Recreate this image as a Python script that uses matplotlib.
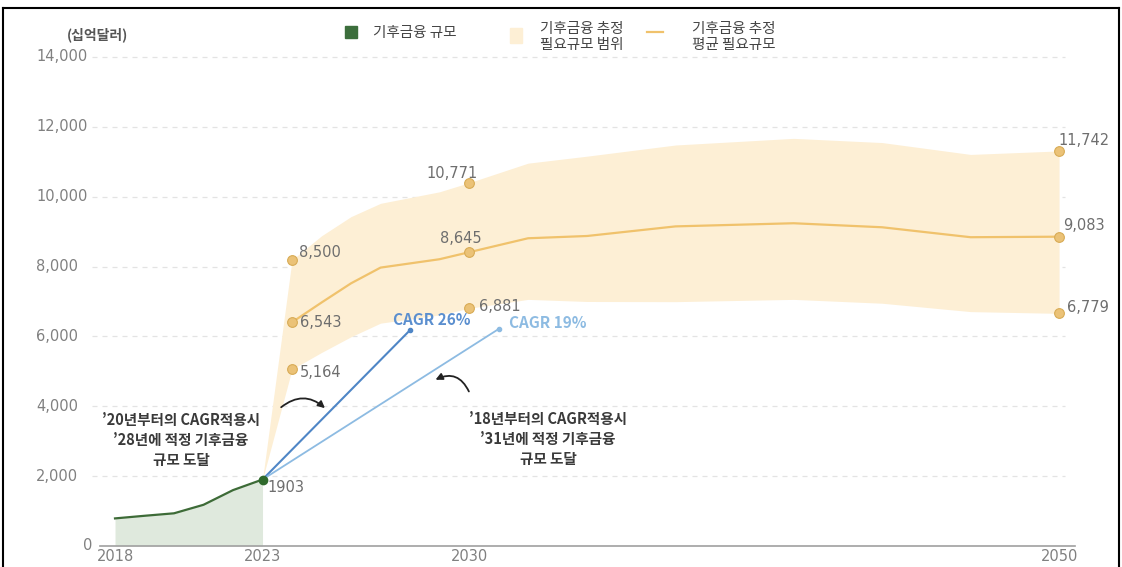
import numpy as np
import matplotlib
matplotlib.use("Agg")
from matplotlib import pyplot as plt
from matplotlib.patches import Rectangle, FancyArrowPatch
from matplotlib.lines import Line2D
from matplotlib.transforms import blended_transform_factory

plt.rcParams['font.family'] = ['Noto Sans CJK KR', 'DejaVu Sans']
NUM_FONT = ['DejaVu Sans']

# actual climate finance size (billion USD)
actual_years = [2018, 2019, 2020, 2021, 2022, 2023]
actual_values = [790, 865, 936, 1180, 1600, 1903]

# estimated required range and mean
proj_years = [2023, 2024, 2025, 2026, 2027, 2029, 2030, 2032, 2034, 2037, 2041, 2044, 2047, 2050]
proj_upper = [1903, 8190, 8880, 9430, 9810, 10140, 10400, 10960, 11160, 11480, 11670, 11550, 11210, 11310]
proj_lower = [1903, 5060, 5540, 5990, 6380, 6615, 6805, 7060, 7000, 6995, 7060, 6950, 6710, 6660]
proj_mean = [np.nan, 6405, 6970, 7520, 7970, 8210, 8410, 8810, 8875, 9150, 9240, 9125, 8840, 8855]

# labelled points
label_years = [2024, 2030, 2050]
upper_labels = ['8,500', '10,771', '11,742']
mean_labels = ['6,543', '8,645', '9,083']
lower_labels = ['5,164', '6,881', '6,779']

# CAGR extrapolation lines
cagr26_years = [2023, 2028]
cagr26_values = [1903, 6180]
cagr19_years = [2023, 2031]
cagr19_values = [1903, 6210]

y_ticks = [0, 2000, 4000, 6000, 8000, 10000, 12000, 14000]
x_ticks = [2018, 2023, 2030, 2050]

W, H = 1122, 567
fig = plt.figure(figsize=(W / 100, H / 100), dpi=100)
ax = fig.add_axes([92 / W, (H - 546) / H, 983 / W, 506 / H])
ax.set_xlim(2017.22, 2050.54)
ax.set_ylim(0, 14486)
for s in ax.spines.values():
    s.set_visible(False)

def fx(x):
    return x / W

def fy(y):
    return 1 - y / H

# grid
for v in y_ticks[1:]:
    ax.axhline(v, xmin=0, xmax=0.99, color='#e3e3e3', lw=0.9, ls=(0, (4, 4)), zorder=0)
ax.axhline(0, xmin=8 / 983, xmax=1, color='#a0a0a0', lw=1.2, zorder=5, clip_on=False)

# y labels
tr = blended_transform_factory(fig.transFigure, ax.transData)
for v in y_ticks:
    if v == 0:
        ax.text(fx(92), v, '0', transform=tr, ha='right', va='center', fontsize=10.5,
                color='#808080', family=NUM_FONT)
    else:
        ax.text(fx(36), v, f'{v:,}', transform=tr, ha='left', va='center', fontsize=10.5,
                color='#808080', family=NUM_FONT)

ax.set_yticks([])
ax.set_xticks(x_ticks)
ax.set_xticklabels([str(x) for x in x_ticks], fontsize=10.5, color='#808080', family=NUM_FONT)
ax.tick_params(axis='x', length=0, pad=2)

# band + mean line
ax.fill_between(proj_years, proj_lower, proj_upper, color='#fdefd5', lw=0, zorder=1)
ax.plot(proj_years, proj_mean, color='#f0c26c', lw=1.6, zorder=3)

# actual
ax.fill_between(actual_years, 0, actual_values, color='#dfe9dd', lw=0, zorder=2)
ax.plot(actual_years, actual_values, color='#3d6b37', lw=1.6, zorder=4)

# CAGR lines
ax.plot(cagr26_years, cagr26_values, color='#4f86c6', lw=1.5, zorder=4)
ax.plot(cagr26_years[-1], cagr26_values[-1], 'o', ms=3, color='#4f86c6', zorder=5)
ax.plot(cagr19_years, cagr19_values, color='#8dbbe2', lw=1.3, zorder=4)
ax.plot(cagr19_years[-1], cagr19_values[-1], 'o', ms=3, color='#8dbbe2', zorder=5)
ax.annotate('CAGR 26%', (cagr26_years[-1], cagr26_values[-1]), xytext=(-17, 10),
            textcoords='offset pixels', ha='left', va='center', fontsize=11,
            fontweight='bold', color='#5b8fcf')
ax.annotate('CAGR 19%', (cagr19_years[-1], cagr19_values[-1]), xytext=(10, 6),
            textcoords='offset pixels', ha='left', va='center', fontsize=11,
            fontweight='bold', color='#8dbbe2')

# markers
mk = dict(marker='o', ms=7, mfc='#ebc277', mec='#d8ab55', mew=0.8, ls='none', zorder=6)
for i, yr in enumerate(label_years):
    j = proj_years.index(yr)
    ax.plot([yr] * 3, [proj_upper[j], proj_mean[j], proj_lower[j]], **mk)

lab = dict(textcoords='offset pixels', fontsize=10.5, color='#6e6e6e', va='center', zorder=7,
           family=NUM_FONT)
offs_upper = [((7, 7), 'left'), ((-17, 9), 'center'), ((-1, 10), 'left')]
offs_mean = [((8, 0), 'left'), ((-8, 14), 'center'), ((4, 11), 'left')]
offs_lower = [((8, -3), 'left'), ((10, 2), 'left'), ((8, 6), 'left')]
for i, yr in enumerate(label_years):
    j = proj_years.index(yr)
    ax.annotate(upper_labels[i], (yr, proj_upper[j]), xytext=offs_upper[i][0], ha=offs_upper[i][1], **lab)
    ax.annotate(mean_labels[i], (yr, proj_mean[j]), xytext=offs_mean[i][0], ha=offs_mean[i][1], **lab)
    ax.annotate(lower_labels[i], (yr, proj_lower[j]), xytext=offs_lower[i][0], ha=offs_lower[i][1], **lab)

# 2023 actual point
ax.plot(actual_years[-1], actual_values[-1], 'o', ms=6, color='#2f6a2c', zorder=7)
ax.annotate(f'{actual_values[-1]}', (actual_years[-1], actual_values[-1]), xytext=(5, -8),
            textcoords='offset pixels', ha='left', va='center', fontsize=10.5, color='#6e6e6e',
            family=NUM_FONT)

# notes
note = dict(ha='center', va='center', fontsize=10.5, fontweight='bold', color='#3a3a3a', linespacing=1.3)
fig.text(fx(181), fy(440), "’20년부터의 CAGR적용시\n’28년에 적정 기후금융\n규모 도달", **note)
fig.text(fx(548), fy(439), "’18년부터의 CAGR적용시\n’31년에 적정 기후금융\n규모 도달", **note)

# curved arrows (pixel positions converted to data)
def to_data(x, y):
    return 2030 + (x - 469) / 29.5, (546 - y) * 14000 / 489

arr = dict(arrowstyle='-|>', mutation_scale=10, color='#222222', lw=1.3, zorder=8)
ax.add_patch(FancyArrowPatch(to_data(279, 409), to_data(327, 410),
                             connectionstyle='arc3,rad=-0.45', **arr))
ax.add_patch(FancyArrowPatch(to_data(470, 394), to_data(433, 381),
                             connectionstyle='arc3,rad=0.55', **arr))

# header: unit + legend
fig.text(fx(67), fy(35), '(십억달러)', ha='left', va='center', fontsize=10, fontweight='bold', color='#555555')
fig.add_artist(Rectangle((fx(345), fy(38)), 12 / W, 12 / H, transform=fig.transFigure, color='#3c6e3c'))
fig.text(fx(373), fy(33), '기후금융 규모', ha='left', va='center', fontsize=10.5, color='#444444')
fig.add_artist(Rectangle((fx(510), fy(43)), 12 / W, 15 / H, transform=fig.transFigure, color='#fdefd5'))
fig.text(fx(540), fy(37), '기후금융 추정\n필요규모 범위', ha='left', va='center', fontsize=10.5,
         color='#444444', linespacing=1.15)
fig.add_artist(Line2D([fx(647), fx(663)], [fy(32), fy(32)], transform=fig.transFigure,
                      color='#f0c26c', lw=1.6))
fig.text(fx(692), fy(37), '기후금융 추정\n평균 필요규모', ha='left', va='center', fontsize=10.5,
         color='#444444', linespacing=1.15)

# frame
for xs, ys in [([3, 3], [8, 567]), ([3, 1119], [8, 8]), ([1119, 1119], [8, 567])]:
    fig.add_artist(Line2D([fx(x) for x in xs], [fy(y) for y in ys], transform=fig.transFigure,
                          color='black', lw=1.5))

fig.savefig('out.png', dpi=100)
